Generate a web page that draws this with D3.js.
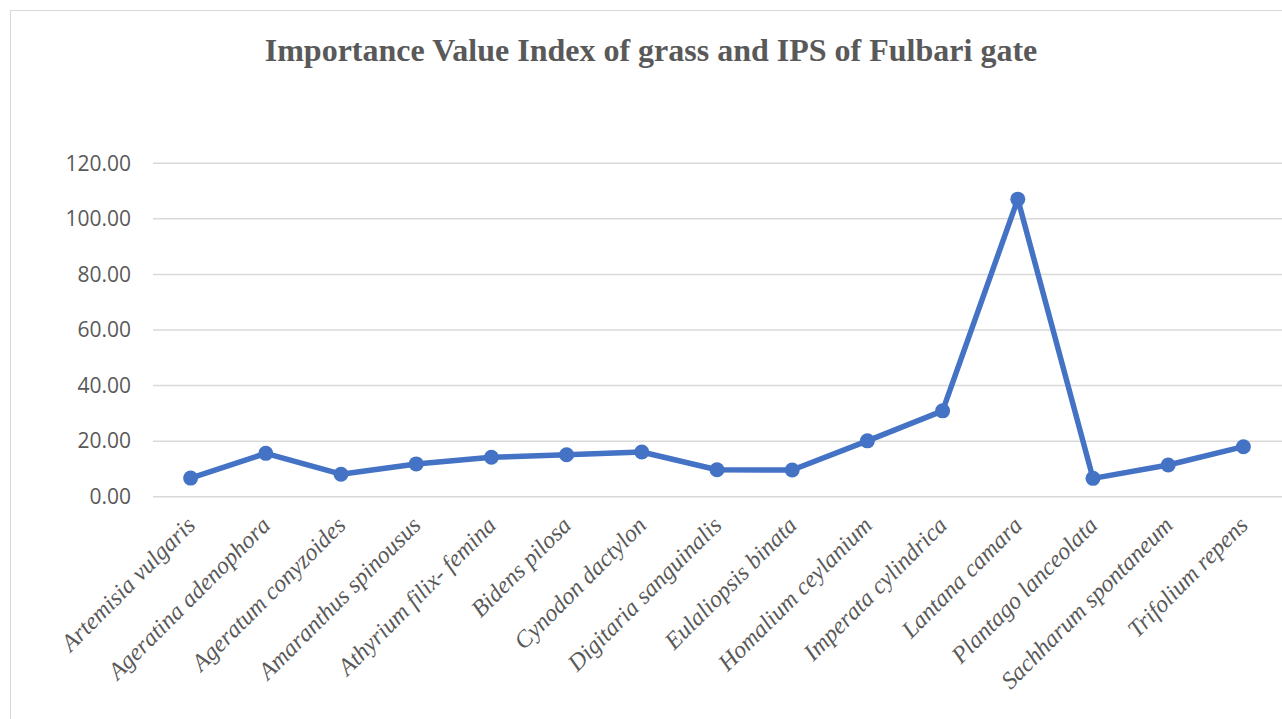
<!DOCTYPE html>
<html>
<head>
<meta charset="utf-8">
<script src="https://cdn.jsdelivr.net/npm/d3@7"></script>
<style>
  body { margin: 0; background: #fff; }
  svg { display: block; }
</style>
</head>
<body>
<div id="chart"></div>
<script>
// Datos
const species = [
  "Artemisia vulgaris", "Ageratina adenophora", "Ageratum conyzoides",
  "Amaranthus spinousus", "Athyrium filix- femina", "Bidens pilosa",
  "Cynodon dactylon", "Digitaria sanguinalis", "Eulaliopsis binata",
  "Homalium ceylanium", "Imperata cylindrica", "Lantana camara",
  "Plantago lanceolata", "Sachharum spontaneum", "Trifolium repens"
];
const ivi = [6.7, 15.6, 8.1, 11.8, 14.2, 15.1, 16.1, 9.7, 9.6, 20.1, 30.9, 107.1, 6.6, 11.4, 18.0];
const yTicks = [0, 20, 40, 60, 80, 100, 120];
const title = "Importance Value Index of grass and IPS of Fulbari gate";

const width = 1282, height = 719;
const grey = "#595959";

const svg = d3.select("#chart").append("svg")
  .attr("width", width)
  .attr("height", height);

// Marco del grafico
svg.append("rect")
  .attr("x", 10.5).attr("y", 10.5)
  .attr("width", 1400).attr("height", 900)
  .attr("fill", "#fff")
  .attr("stroke", "#d9d9d9");

// Escalas
const x = d3.scaleBand().domain(species).range([153, 1281]);
const y = d3.scaleLinear().domain([0, 120]).range([496.7, 163.3]);

// Lineas de cuadricula
svg.append("g")
  .selectAll("line")
  .data(yTicks)
  .join("line")
  .attr("x1", 153).attr("x2", 1282)
  .attr("y1", d => y(d)).attr("y2", d => y(d))
  .attr("stroke", "#d9d9d9")
  .attr("stroke-width", 1.5);

// Eje Y
const yAxis = svg.append("g")
  .attr("transform", "translate(131,0)")
  .call(d3.axisLeft(y).tickValues(yTicks).tickFormat(d3.format(".2f")).tickSize(0).tickPadding(0));
yAxis.select(".domain").remove();
yAxis.selectAll("text")
  .attr("fill", grey)
  .style("font-family", "'Open Sans', sans-serif")
  .style("font-size", "21px");

// Eje X (etiquetas giradas)
const xAxis = svg.append("g")
  .attr("transform", "translate(0,496.7)")
  .call(d3.axisBottom(x).tickSize(0).tickPadding(0));
xAxis.select(".domain").remove();
xAxis.selectAll("text")
  .attr("fill", grey)
  .attr("dy", null)
  .attr("y", 0)
  .attr("text-anchor", "end")
  .attr("transform", "translate(6,30) rotate(-45)")
  .style("font-family", "'Liberation Serif', 'Times New Roman', serif")
  .style("font-style", "italic")
  .style("font-size", "24px");

// Serie
const pts = species.map((s, i) => ({ s, v: ivi[i] }));
const line = d3.line()
  .x(d => x(d.s) + x.bandwidth() / 2)
  .y(d => y(d.v));

svg.append("path")
  .datum(pts)
  .attr("d", line)
  .attr("fill", "none")
  .attr("stroke", "#4472C4")
  .attr("stroke-width", 5.5)
  .attr("stroke-linejoin", "round");

svg.append("g")
  .selectAll("circle")
  .data(pts)
  .join("circle")
  .attr("cx", d => x(d.s) + x.bandwidth() / 2)
  .attr("cy", d => y(d.v))
  .attr("r", 7.5)
  .attr("fill", "#4472C4");

// Titulo
svg.append("text")
  .attr("x", 651)
  .attr("y", 61)
  .attr("text-anchor", "middle")
  .attr("fill", grey)
  .style("font-family", "'Liberation Serif', 'Times New Roman', serif")
  .style("font-weight", "bold")
  .style("font-size", "32px")
  .text(title);
</script>
</body>
</html>
